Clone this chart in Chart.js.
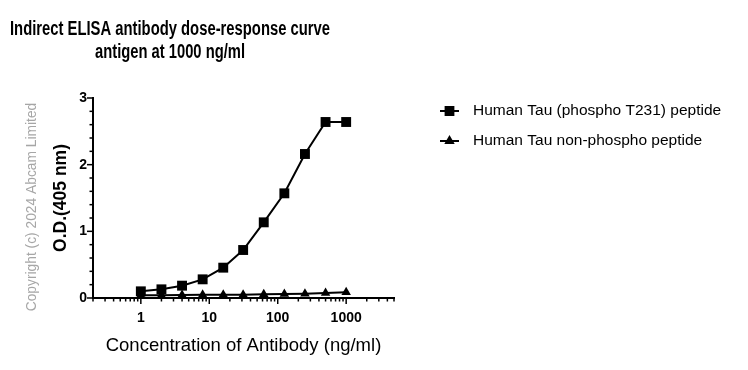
<!DOCTYPE html>
<html lang="en">
	<head>
		<meta charset="UTF-8" />
		<title>ELISA dose-response</title>
		<script src="https://cdn.jsdelivr.net/npm/chart.js@4/dist/chart.umd.min.js"></script>
		<style>
			body { margin: 0; background: #fff; }
			#wrap { width: 748px; height: 370px; }
		</style>
	</head>
	<body>
		<div id="wrap"><canvas id="myChart"></canvas></div>

		<script>
			// antibody concentration (ng/ml), two-fold dilutions
			const doses = [1, 2, 4, 8, 16, 31.25, 62.5, 125, 250, 500, 1000];
			const phosphoOD = [0.1, 0.13, 0.185, 0.28, 0.455, 0.72, 1.135, 1.57, 2.16, 2.64, 2.64];
			const nonPhosphoOD = [0.04, 0.04, 0.045, 0.05, 0.05, 0.05, 0.055, 0.06, 0.065, 0.075, 0.085];
			const seriesNames = ["Human Tau (phospho T231) peptide", "Human Tau non-phospho peptide"];
			const xTickLabels = [1, 10, 100, 1000];
			const yTickLabels = [0, 1, 2, 3];
			const titleLines = ["Indirect ELISA antibody dose-response curve", "antigen at 1000 ng/ml"];

			const toPoints = (ys) => doses.map((x, i) => ({ x, y: ys[i] }));

			// title, copyright, legend and axis tick marks
			const extras = {
				id: "extras",
				afterDraw(chart) {
					const c = chart.ctx;
					c.save();
					c.fillStyle = "#000";
					c.textAlign = "center";
					c.textBaseline = "alphabetic";
					// the original title is set in a condensed face
					c.font = "bold 20px Arial, 'Liberation Sans', sans-serif";
					c.fillText(titleLines[0], 170, 35, 320);
					c.fillText(titleLines[1], 170, 58, 150);

					// copyright
					c.save();
					c.translate(32, 207);
					c.rotate(-Math.PI / 2);
					c.fillStyle = "#a6a6a6";
					c.font = "13.8px Arial, 'Liberation Sans', sans-serif";
					c.textBaseline = "middle";
					c.fillText("Copyright (c) 2024 Abcam Limited", 0, 0);
					c.restore();

					// legend
					c.font = "15.5px Arial, 'Liberation Sans', sans-serif";
					c.textAlign = "left";
					c.textBaseline = "middle";
					chart.data.datasets.forEach((ds, i) => {
						const y = 111 + i * 30;
						c.strokeStyle = "#000";
						c.lineWidth = 2;
						c.beginPath();
						c.moveTo(440, y);
						c.lineTo(459, y);
						c.stroke();
						Chart.helpers.drawPoint(c, { pointStyle: ds.pointStyle, radius: ds.pointRadius - 1.5, borderWidth: 1 }, 449.5, y);
						c.fillStyle = "#000";
						c.fill();
						c.fillText(ds.label, 473, y);
					});

					// tick marks
					c.strokeStyle = "#000";
					c.lineWidth = 1.5;
					const xs = chart.scales.x;
					xs.ticks.forEach((t) => {
						const px = xs.getPixelForValue(t.value);
						const len = xTickLabels.includes(t.value) ? 6 : 3.5;
						c.beginPath();
						c.moveTo(px, xs.top);
						c.lineTo(px, xs.top + len);
						c.stroke();
					});
					const ys = chart.scales.y;
					ys.ticks.forEach((t) => {
						const py = ys.getPixelForValue(t.value);
						const major = Math.abs(t.value - Math.round(t.value)) < 1e-6;
						c.beginPath();
						c.moveTo(ys.right, py);
						c.lineTo(ys.right - (major ? 6 : 3.5), py);
						c.stroke();
					});
					c.restore();
				},
			};

			new Chart(document.getElementById("myChart"), {
				type: "line",
				data: {
					datasets: [
						{
							label: seriesNames[0],
							data: toPoints(phosphoOD),
							borderColor: "#000",
							backgroundColor: "#000",
							borderWidth: 2,
							pointStyle: "rect",
							pointRadius: 7,
							pointBorderWidth: 0,
						},
						{
							label: seriesNames[1],
							data: toPoints(nonPhosphoOD),
							borderColor: "#000",
							backgroundColor: "#000",
							borderWidth: 2,
							pointStyle: "triangle",
							pointRadius: 5.5,
							pointBorderWidth: 0,
						},
					],
				},
				options: {
					responsive: true,
					maintainAspectRatio: false,
					animation: false,
					layout: { padding: { left: 51, right: 354, top: 98, bottom: 10 } },
					plugins: { legend: { display: false }, tooltip: { enabled: false }, title: { display: false } },
					scales: {
						x: {
							type: "logarithmic",
							min: 0.2,
							max: 5000,
							afterBuildTicks(axis) {
								const ticks = [];
								for (let dec = 0.1; dec <= 1000; dec *= 10) {
									for (let m = 1; m <= 9; m++) {
										const v = Math.round(m * dec * 10) / 10;
										if (v >= 0.2 && v <= 5000) ticks.push({ value: v });
									}
								}
								axis.ticks = ticks;
							},
							afterFit(scale) {
								scale.height = 62;
							},
							grid: { display: true, drawOnChartArea: false, tickLength: 6, tickColor: "rgba(0,0,0,0)" },
							border: { color: "#000", width: 2 },
							ticks: {
								autoSkip: false,
								maxRotation: 0,
								color: "#000",
								padding: 6,
								font: { family: "Arial, 'Liberation Sans', sans-serif", size: 14, weight: "bold" },
								callback: (v) => (xTickLabels.includes(v) ? String(v) : ""),
							},
							title: {
								display: true,
								text: "Concentration of Antibody (ng/ml)",
								color: "#000",
								font: { family: "Arial, 'Liberation Sans', sans-serif", size: 18.5 },
								padding: { top: 10, bottom: 3 },
							},
						},
						y: {
							min: 0,
							max: 3,
							afterFit(scale) {
								scale.width = 42;
							},
							grid: { display: true, drawOnChartArea: false, tickLength: 6, tickColor: "rgba(0,0,0,0)" },
							border: { color: "#000", width: 2 },
							ticks: {
								stepSize: 0.2,
								autoSkip: false,
								color: "#000",
								padding: 0,
								font: { family: "Arial, 'Liberation Sans', sans-serif", size: 14, weight: "bold" },
								callback: (v) => {
									const r = Math.round(v);
									return Math.abs(v - r) < 1e-6 && yTickLabels.includes(r) ? String(r) : "";
								},
							},
							title: {
								display: true,
								text: "O.D.(405 nm)",
								color: "#000",
								font: { family: "Arial, 'Liberation Sans', sans-serif", size: 17.5, weight: "bold" },
								padding: { top: 0, bottom: 2 },
							},
						},
					},
				},
				plugins: [extras],
			});
		</script>
	</body>
</html>
